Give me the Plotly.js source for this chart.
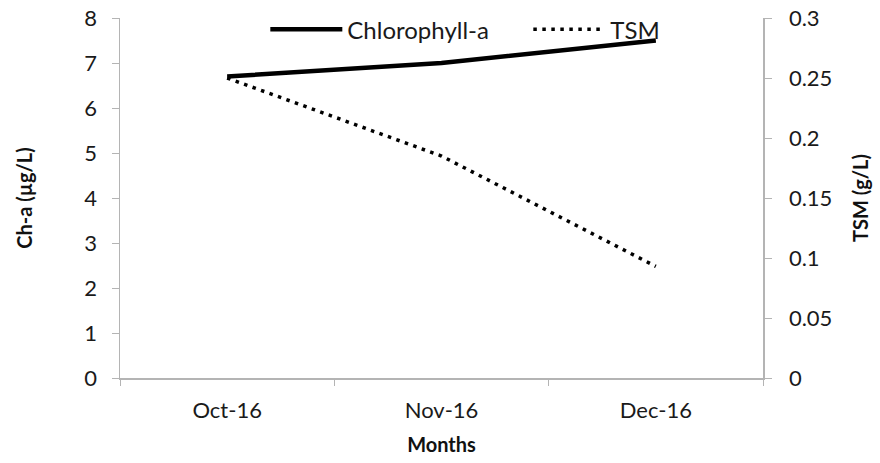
<!DOCTYPE html>
<html>
<head>
<meta charset="utf-8">
<script src="https://cdn.plot.ly/plotly-3.0.1.min.js"></script>
<style>
  html, body { margin: 0; padding: 0; background: #fff; }
  #chart { width: 880px; height: 463px; }
</style>
</head>
<body>
<div id="chart"></div>
<script>
'use strict'
/* Chlorophyll-a and TSM by month, two y axes */
var months = ["Oct-16", "Nov-16", "Dec-16"];
var chlorophyll = [6.7, 7.0, 7.5];
var tsm = [0.25, 0.185, 0.093];

var font = "Lato, 'Open Sans', sans-serif";
var axisGrey = "#b4b4b4";
var textCol = "#1a1a1a";

var chlTrace = {
    type: "scatter",
    mode: "lines",
    name: "Chlorophyll-a",
    x: months,
    y: chlorophyll,
    line: {color: "black", width: 4.5}
};

var tsmTrace = {
    type: "scatter",
    mode: "lines",
    name: "TSM",
    x: months,
    y: tsm,
    yaxis: "y2",
    line: {color: "black", width: 3.5, dash: "3.5px,5.5px"}
};

var layout = {
    width: 880,
    height: 463,
    margin: {l: 120, r: 117, t: 18, b: 85, pad: 0, autoexpand: false},
    paper_bgcolor: "white",
    plot_bgcolor: "white",
    font: {family: font, size: 22, color: textCol},
    showlegend: true,
    legend: {
        orientation: "h",
        x: 0.226,
        xanchor: "left",
        y: 1.03,
        yanchor: "top",
        itemwidth: 72,
        entrywidth: 176,
        bgcolor: "rgba(0,0,0,0)",
        font: {family: font, size: 24, color: textCol}
    },
    xaxis: {
        type: "category",
        range: [-0.5, 2.5],
        showline: true,
        linecolor: axisGrey,
        linewidth: 1.5,
        ticks: "outside",
        tickson: "boundaries",
        ticklen: 6,
        tickcolor: axisGrey,
        showgrid: false,
        zeroline: false,
        ticklabelstandoff: 12,
        tickfont: {family: font, size: 22, color: textCol},
        title: {text: "<b>Months</b>", font: {family: font, size: 20, color: "#111"}, standoff: 16}
    },
    yaxis: {
        range: [0, 8],
        dtick: 1,
        showline: true,
        linecolor: axisGrey,
        linewidth: 1.5,
        ticks: "outside",
        ticklen: 7,
        tickcolor: axisGrey,
        showgrid: false,
        zeroline: false,
        ticklabelstandoff: 10,
        tickfont: {family: font, size: 22, color: textCol},
        title: {text: "<b>Ch-a (µg/L)</b>", font: {family: font, size: 20, color: "#111"}, standoff: 46}
    },
    yaxis2: {
        overlaying: "y",
        side: "right",
        range: [0, 0.3],
        dtick: 0.05,
        showline: true,
        linecolor: axisGrey,
        linewidth: 1.5,
        ticks: "outside",
        ticklen: 7,
        tickcolor: axisGrey,
        showgrid: false,
        zeroline: false,
        ticklabelstandoff: 13,
        tickfont: {family: font, size: 22, color: textCol},
        title: {text: "<b>TSM (g/L)</b>", font: {family: font, size: 20, color: "#111"}, standoff: 22}
    }
};

Plotly.newPlot("chart", [chlTrace, tsmTrace], layout, {displayModeBar: false, staticPlot: true});
</script>
</body>
</html>
